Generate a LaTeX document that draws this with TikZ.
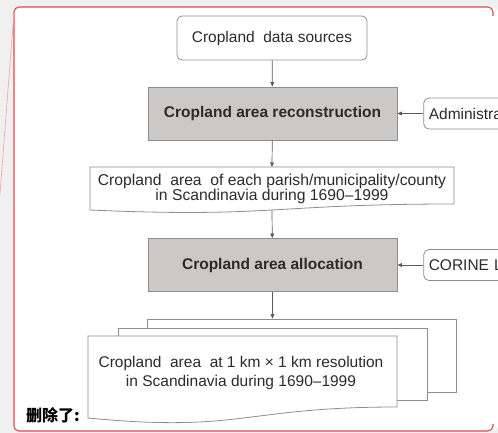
\documentclass[tikz,border=0pt]{standalone}
\usepackage{fontspec}
\setmainfont{Liberation Sans}
\newfontfamily\cjk{Noto Sans CJK SC}
\usetikzlibrary{positioning}
\usetikzlibrary{arrows.meta}

\definecolor{pagegray}{HTML}{F0F0F0}
\definecolor{markred}{HTML}{E04B4B}
\definecolor{linegray}{HTML}{8E8E8E}
\definecolor{arrgray}{HTML}{5A5A5A}
\definecolor{stagegray}{HTML}{CBC9C8}
\definecolor{txt}{HTML}{2B2B2B}

\tikzset{
  inbox/.style={draw=linegray, line width=0.8pt, rounded corners=5pt, text=txt, inner sep=0pt},
  stagebox/.style={draw=linegray, line width=0.8pt, fill=stagegray, text=txt, font=\fontsize{15.5}{18}\selectfont\bfseries,
    minimum width=249pt, minimum height=53pt},
  sidebox/.style={inbox, minimum height=31pt, text width=95pt, align=left, inner xsep=5pt},
  docline/.style={draw=linegray, line width=0.8pt},
  sheet/.style={docline, fill=white, minimum width=309pt, inner sep=0pt},
  doctext/.style={text=txt, align=center},
  arr/.style={-{Triangle[length=4.5pt,width=3.8pt]}, draw=arrgray, line width=0.7pt},
}

\begin{document}
\begin{tikzpicture}[x=1pt, y=-1pt, font=\fontsize{15.5}{18}\selectfont]
  \useasboundingbox (0,0) rectangle (498,433);
  % comment balloon
  \fill[pagegray] (0,0) rectangle (498,433);
  \fill[white, rounded corners=5pt] (14,7) rectangle (498,431);
  \fill[white] (480,16) rectangle (498,424);
  \draw[markred, line width=1.1pt, rounded corners=5pt] (493,16) -- (493,7) -- (14,7) -- (14,431) -- (493,431) -- (493,424);
  \draw[markred!50, line width=0.6pt] (14,12) -- (0,194);
  \node[text=black, font=\fontsize{16}{18}\selectfont\cjk\bfseries] (del) at (53,415) {删除了:};

  % flow
  \node[inbox, minimum width=190pt, minimum height=44pt] (src) at (272,38) {Cropland\ \ data sources};
  \node[stagebox] (rec) at (272.5,113.5) {Cropland area reconstruction};
  \node[sidebox, right=26pt of rec] (adm) {Administra};

  \coordinate (d1top) at (272,167);
  \coordinate (d1bot) at (272,210);
  \draw[docline] (90,167) -- (454,167) -- (454,204) .. controls (272,204) and (272,218) .. (90,210) -- cycle;
  \node[doctext, font=\fontsize{15.7}{15}\selectfont] (d1) at (272,189)
    {Cropland\ \ area\ \ of each parish/municipality/county\\in Scandinavia during 1690--1999};

  \node[stagebox] (alloc) at (272.5,265) {Cropland area allocation};
  \node[sidebox, right=26pt of alloc] (cor) {CORINE L};

  \node[sheet, minimum height=73pt] (d2c) at (301.5,355.5) {};
  \node[sheet, minimum height=72pt] (d2b) at (272.5,364) {};
  \filldraw[docline, fill=white] (88,336) -- (397,336) -- (397,407) .. controls (242.5,407) and (242.5,433) .. (88,418) -- cycle;
  \node[doctext, font=\fontsize{15.5}{19}\selectfont] (d2) at (241,373)
    {Cropland\ \ area\ \ at 1 km × 1 km resolution\\in Scandinavia during 1690--1999};

  \draw[arr] (src) -- (rec);
  \draw[arr] (rec) -- (d1top);
  \draw[arr] (d1bot) -- (alloc);
  \draw[arr] (alloc.south) -- (alloc.south |- d2c.north);
  \draw[arr] (adm) -- (rec);
  \draw[arr] (cor) -- (alloc);
\end{tikzpicture}
\end{document}
